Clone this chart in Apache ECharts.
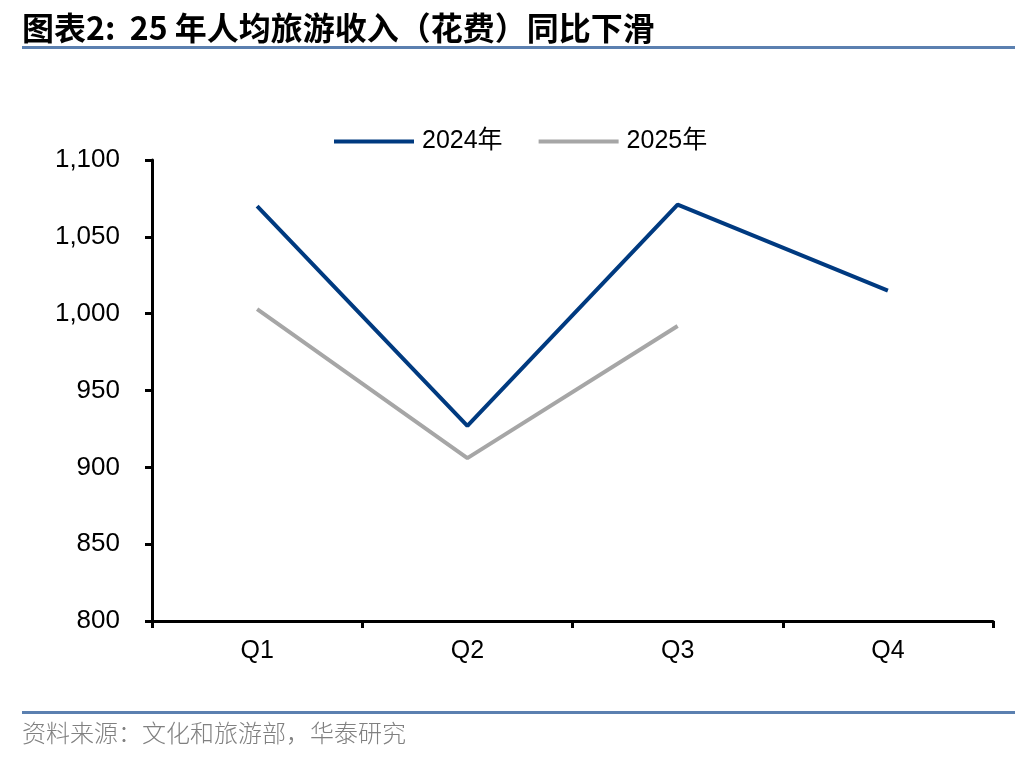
<!DOCTYPE html>
<html>
<head>
<meta charset="utf-8">
<script src="https://cdn.jsdelivr.net/npm/echarts@6/dist/echarts.min.js"></script>
<style>html,body{margin:0;padding:0;background:#fff}#c{width:1036px;height:760px}</style>
</head>
<body>
<div id="c"></div>
<script>
const categories = ['Q1', 'Q2', 'Q3', 'Q4'];
const series2024 = [1070, 927, 1071, 1015];
const series2025 = [1003, 906, 992, null];
const seriesNames = ['2024年', '2025年'];
const yTicks = { min: 800, max: 1100, interval: 50 };
const titleText = '图表2:  25 年人均旅游收入（花费）同比下滑';
const sourceText = '资料来源：文化和旅游部，华泰研究';

const chart = echarts.init(document.getElementById('c'), null, { renderer: 'canvas' });
const latin = 'Arial, "Liberation Sans", "Noto Sans CJK SC", sans-serif';
chart.setOption({
  backgroundColor: '#fff',
  animation: false,
  legend: {
    top: 124,
    left: 329,
    itemWidth: 80,
    itemHeight: 4,
    itemGap: 36,
    icon: 'rect',
    textStyle: { fontSize: 25, color: '#000', fontFamily: latin, padding: [0, 0, 0, 3] },
    data: seriesNames
  },
  grid: { left: 152, right: 43, top: 160, bottom: 139, containLabel: false },
  xAxis: {
    type: 'category',
    data: categories,
    boundaryGap: true,
    axisLine: { lineStyle: { color: '#000', width: 3 } },
    axisTick: { show: true, length: 7, inside: false, lineStyle: { color: '#000', width: 3 } },
    axisLabel: { fontSize: 25, color: '#000', margin: 18, fontFamily: latin },
    splitLine: { show: false }
  },
  yAxis: {
    type: 'value',
    min: yTicks.min,
    max: yTicks.max,
    interval: yTicks.interval,
    axisLine: { show: true, lineStyle: { color: '#000', width: 3 } },
    axisTick: { show: true, length: 7, lineStyle: { color: '#000', width: 3 } },
    axisLabel: {
      fontSize: 26, color: '#000', margin: 32, fontFamily: latin,
      formatter: v => v.toLocaleString('en-US')
    },
    splitLine: { show: false }
  },
  series: [
    {
      name: seriesNames[0], type: 'line', data: series2024,
      symbol: 'none', lineStyle: { color: '#003a80', width: 4 }, itemStyle: { color: '#003a80' }
    },
    {
      name: seriesNames[1], type: 'line', data: series2025,
      symbol: 'none', lineStyle: { color: '#a6a6a6', width: 4 }, itemStyle: { color: '#a6a6a6' }
    }
  ],
  graphic: [
    {
      type: 'text', left: 22, top: 12,
      style: { text: titleText, fontSize: 32, fontWeight: 'bold', fill: '#000', fontFamily: '"Noto Sans CJK SC", sans-serif' }
    },
    { type: 'rect', shape: { x: 22, y: 46, width: 993, height: 3 }, style: { fill: '#5b80b0' } },
    { type: 'rect', shape: { x: 22, y: 711, width: 993, height: 3 }, style: { fill: '#5b80b0' } },
    {
      type: 'text', left: 22, top: 721,
      style: { text: sourceText, fontSize: 24, fontWeight: 300, fill: '#808080', fontFamily: '"Noto Sans CJK SC", serif' }
    }
  ]
});
</script>
</body>
</html>
